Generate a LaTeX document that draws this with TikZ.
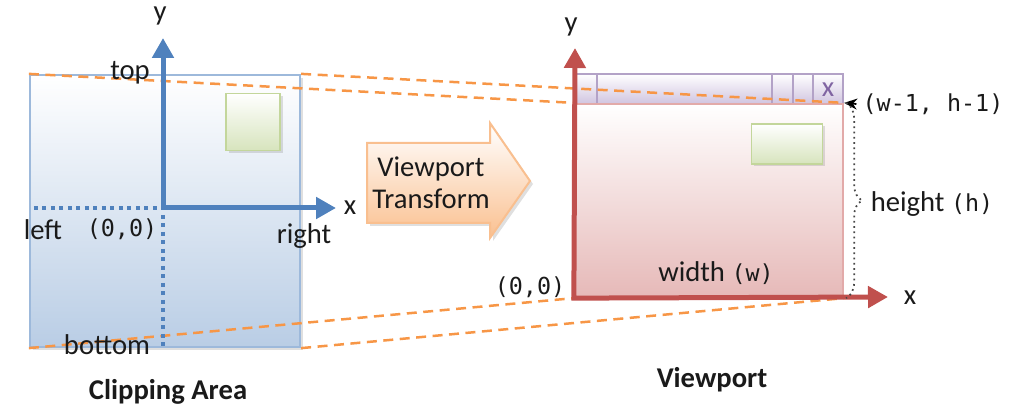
\documentclass[tikz,border=0pt]{standalone}
\usepackage{fontspec}
\setmainfont{Carlito}
\setmonofont{DejaVu Sans Mono}
\usetikzlibrary{arrows.meta,positioning,calc,shadows,decorations.pathreplacing}
\definecolor{ClipAxis}{HTML}{4F81BD}
\definecolor{ClipEdge}{HTML}{9DB9DB}
\definecolor{ClipFill}{HTML}{B9CDE5}
\definecolor{ViewAxis}{HTML}{C0504D}
\definecolor{ViewEdge}{HTML}{E2AAA9}
\definecolor{ViewFill}{HTML}{E6B9B8}
\definecolor{BarEdge}{HTML}{B3A2C7}
\definecolor{BarFill}{HTML}{D0C4E0}
\definecolor{BarMark}{HTML}{8064A2}
\definecolor{ProjOrange}{HTML}{F79646}
\definecolor{BoxEdge}{HTML}{C3D69B}
\definecolor{BoxFill}{HTML}{D7E4BD}
\definecolor{XfEdge}{HTML}{F9BF8F}
\definecolor{XfFill}{HTML}{FAC090}
\definecolor{TextDark}{HTML}{1A1A1A}
\newcommand{\vpmono}[1]{{\fontsize{13.3}{15}\selectfont\ttfamily #1}}

\begin{document}
\begin{tikzpicture}[
    x=0.2mm, y=-0.2mm,
    font=\fontsize{16.3}{19}\selectfont,
    every node/.style={text=TextDark},
    area/.style={
      draw=#1,
      line width=0.45mm,
      inner sep=0pt
    },
    gbox/.style={
      draw=BoxEdge,
      line width=0.35mm,
      top color=white,
      bottom color=BoxFill,
      inner sep=0pt,
      drop shadow={opacity=0.25,shadow xshift=0.5mm,shadow yshift=-0.5mm}
    },
    proj/.style={
      draw=ProjOrange,
      line width=0.5mm,
      dash pattern=on 2mm off 1.3mm
    },
    axis/.style={
      {Triangle[length=4mm,width=4.2mm]}-{Triangle[length=4mm,width=4.2mm]},
      line width=1mm,
      line join=miter,
      color=#1
    },
    dotline/.style={
      draw=ClipAxis,
      line width=0.9mm,
      dash pattern=on 0.8mm off 0.9mm
    },
    caption/.style={
      font=\fontsize{16.3}{19}\selectfont\bfseries
    }
  ]

  \useasboundingbox (0,0) rectangle (1011,412);

  % clipping area
  \node[area=ClipEdge, top color=white, bottom color=ClipFill,
        minimum width=54mm, minimum height=54.4mm,
        drop shadow={opacity=0.25,shadow xshift=0.6mm,shadow yshift=-0.6mm}]
        (clip) at (165,211) {};
  \node[gbox, minimum width=10.8mm, minimum height=11.4mm] (cbox) at (253,122) {};

  % viewport window
  \node[area=BarEdge, top color=white, bottom color=BarFill,
        minimum width=53.6mm, minimum height=6mm] (bar) at (709,89) {};
  \foreach \bx in {597,772,793,813}
    \draw[BarEdge, line width=0.45mm] (\bx,74) -- (\bx,104);
  \node[text=BarMark, inner sep=0pt] (close) at (828,90) {x};
  \node[area=ViewEdge, top color=white, bottom color=ViewFill,
        minimum width=53.6mm, minimum height=38.6mm] (view) at (709,200.5) {};
  \node[gbox, minimum width=14.2mm, minimum height=8mm] (vbox) at (787,144) {};

  \draw[proj] (clip.north west) -- (view.north west);
  \draw[proj] (clip.north east) -- (view.north east);
  \draw[proj] (clip.south west) -- (view.south west);
  \draw[proj] (clip.south east) -- (view.south east);

  % axes
  \coordinate (corig) at (163,208);
  \coordinate (cy) at (163,38);
  \coordinate (cx) at (336,208);
  \draw[dotline] ([xshift=1mm]clip.west |- corig) -- (corig) -- (corig |- clip.south);
  \draw[axis=ClipAxis] (cy) -- (corig) -- (cx);

  \coordinate (vorig) at (view.south west);
  \coordinate (vy) at (575,48);
  \coordinate (vx) at (888,297);
  \draw[axis=ViewAxis] (vy) -- (vorig) -- (vx);

  % transform arrow
  \filldraw[draw=XfEdge, line width=0.4mm, top color=white, bottom color=XfFill,
            drop shadow={opacity=0.25,shadow xshift=0.6mm,shadow yshift=-0.6mm}]
    (367,143) -- (490,143) -- (490,123) -- (530,181) -- (490,238) -- (490,223)
    -- (367,223) -- cycle;
  \node[align=center, inner sep=0pt] (xform) at (431,183) {Viewport\\[-1pt]Transform};

  % labels
  \node (cylbl) at (160,16) {y};
  \node (cxlbl) at (350,208) {x};
  \node (top) at (130,73) {top};
  \node (left) at (43,230) {left};
  \node (corigl) at (122,229) {\vpmono{(0,0)}};
  \node (right) at (304,236) {right};
  \node (bottom) at (107,345) {bottom};

  \node (vylbl) at (571,27) {y};
  \node (vxlbl) at (910,298) {x};
  \node (vorigl) at (530,287) {\vpmono{(0,0)}};
  \node (wlbl) at (716,273) {width \vpmono{(w)}};
  \node (hlbl) at (932,204) {height \vpmono{(h)}};
  \node (corner) at (933,104) {\vpmono{(w-1, h-1)}};

  \draw[-{Stealth[length=2.6mm,width=2.2mm]}, line width=0.35mm] (corner.west) -- (view.north east);
  \draw[decorate, decoration={brace,amplitude=3.2mm}, dotted, line width=0.35mm, TextDark!80]
    ([xshift=0.4mm]view.north east) -- ([xshift=0.4mm]view.south east);

  \node[caption] (cclip) at (168,392) {Clipping Area};
  \node[caption] (cview) at (712,380) {Viewport};

\end{tikzpicture}
\end{document}
